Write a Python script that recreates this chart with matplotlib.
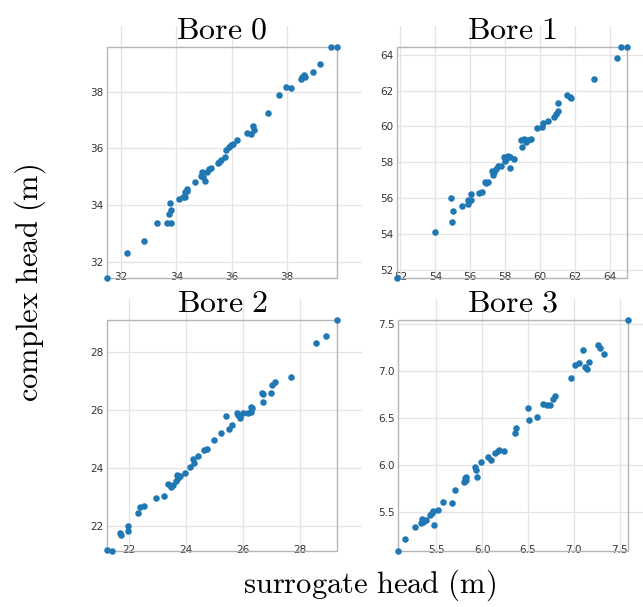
import matplotlib
matplotlib.use("Agg")
import matplotlib.pyplot as plt
from matplotlib.patches import Rectangle

plt.rcParams["mathtext.fontset"] = "cm"
plt.rcParams["font.family"] = "DejaVu Sans"

# surrogate head (x) vs complex head (y) per bore
bore0_x = [31.49, 32.20, 32.84, 33.31, 33.65, 33.82, 33.72, 33.82, 33.76, 34.09,
           34.26, 34.32, 34.33, 34.39, 34.40, 34.66, 34.88, 34.93, 34.95, 35.05,
           35.12, 35.19, 35.26, 35.50, 35.55, 35.62, 35.76, 35.79, 35.91, 35.98,
           36.06, 36.21, 36.56, 36.71, 36.80, 36.77, 37.32, 37.71, 37.99, 38.15,
           38.50, 38.55, 38.61, 38.67, 38.95, 39.20, 39.60, 39.82]
bore0_y = [31.43, 32.30, 32.74, 33.38, 33.38, 33.36, 33.69, 33.84, 34.07, 34.20,
           34.27, 34.30, 34.46, 34.57, 34.51, 34.82, 35.01, 35.16, 34.99, 34.85,
           35.15, 35.27, 35.29, 35.48, 35.53, 35.60, 35.70, 35.93, 36.05, 36.10,
           36.14, 36.31, 36.55, 36.51, 36.64, 36.78, 37.23, 37.89, 38.15, 38.13,
           38.46, 38.51, 38.60, 38.53, 38.69, 38.98, 39.57, 39.57]

bore1_x = [51.80, 53.98, 54.91, 54.93, 55.03, 55.54, 55.86, 55.90, 56.02, 56.05,
           56.49, 56.66, 56.85, 56.93, 57.00, 57.25, 57.33, 57.38, 57.46, 57.57,
           57.76, 57.92, 57.99, 58.07, 58.16, 58.30, 58.30, 58.52, 58.90, 58.98,
           59.06, 59.17, 59.29, 59.48, 59.82, 60.14, 60.16, 60.46, 60.81, 60.94,
           61.03, 61.03, 61.57, 61.72, 61.79, 63.09, 64.42, 64.65, 64.99]
bore1_y = [51.55, 54.13, 56.01, 54.65, 55.28, 55.56, 55.88, 55.69, 55.92, 56.22,
           56.29, 56.35, 56.93, 56.85, 56.89, 57.52, 57.28, 57.47, 57.60, 57.78,
           57.78, 58.27, 58.08, 58.19, 58.34, 57.71, 58.31, 58.16, 59.24, 58.83,
           59.28, 59.13, 59.24, 59.31, 59.93, 59.95, 60.17, 60.32, 60.54, 60.69,
           60.84, 61.29, 61.76, 61.66, 61.57, 62.63, 63.83, 64.43, 64.43]

bore2_x = [21.24, 21.43, 21.68, 21.73, 21.96, 21.96, 22.34, 22.41, 22.55, 22.94,
           23.23, 23.39, 23.49, 23.56, 23.65, 23.70, 23.74, 23.81, 23.98, 24.16,
           24.26, 24.30, 24.44, 24.63, 24.73, 24.98, 25.24, 25.40, 25.52, 25.60,
           25.78, 25.82, 25.89, 25.99, 26.18, 26.27, 26.29, 26.32, 26.67, 26.71,
           26.69, 26.97, 27.02, 27.13, 27.67, 28.56, 28.89, 29.29]
bore2_y = [21.16, 21.12, 21.73, 21.69, 21.97, 21.82, 22.43, 22.64, 22.68, 22.94,
           23.01, 23.43, 23.34, 23.41, 23.55, 23.73, 23.64, 23.71, 23.83, 24.01,
           24.29, 24.15, 24.40, 24.61, 24.66, 24.97, 25.20, 25.80, 25.33, 25.48,
           25.90, 25.82, 25.72, 25.88, 25.88, 25.93, 26.09, 26.05, 26.59, 26.54,
           26.28, 26.59, 26.86, 26.95, 27.13, 28.30, 28.55, 29.10]

bore3_x = [5.085, 5.16, 5.27, 5.34, 5.35, 5.36, 5.39, 5.43, 5.45, 5.47,
           5.48, 5.52, 5.57, 5.67, 5.71, 5.80, 5.81, 5.82, 5.83, 5.83,
           5.92, 5.93, 5.94, 5.99, 6.07, 6.10, 6.14, 6.17, 6.19, 6.24,
           6.36, 6.37, 6.50, 6.51, 6.60, 6.66, 6.71, 6.74, 6.77, 6.79,
           6.97, 7.01, 7.06, 7.10, 7.12, 7.14, 7.17, 7.26, 7.28, 7.33, 7.59]
bore3_y = [5.09, 5.22, 5.34, 5.39, 5.43, 5.40, 5.42, 5.47, 5.49, 5.51,
           5.37, 5.52, 5.61, 5.60, 5.74, 5.82, 5.86, 5.83, 5.88, 5.84,
           5.98, 5.95, 5.88, 6.03, 6.09, 6.05, 6.13, 6.15, 6.16, 6.15,
           6.34, 6.39, 6.61, 6.48, 6.51, 6.65, 6.64, 6.64, 6.70, 6.73,
           6.92, 7.06, 7.08, 7.22, 7.04, 7.02, 7.09, 7.27, 7.24, 7.18, 7.54]

titles = ["Bore 0", "Bore 1", "Bore 2", "Bore 3"]
xs = [bore0_x, bore1_x, bore2_x, bore3_x]
ys = [bore0_y, bore1_y, bore2_y, bore3_y]
ticks = [[32, 34, 36, 38],
         [52, 54, 56, 58, 60, 62, 64],
         [22, 24, 26, 28],
         [5.5, 6.0, 6.5, 7.0, 7.5]]
tick_labels = [["32", "34", "36", "38"],
               ["52", "54", "56", "58", "60", "62", "64"],
               ["22", "24", "26", "28"],
               ["5.5", "6.0", "6.5", "7.0", "7.5"]]

W, H = 643, 607
# frame (left, top) in pixels, frame size in pixels
frames = [(107, 47), (397, 47), (107, 320), (398, 320)]
fw, fh = 230, 231
ex, ey = 0.11, 0.09  # grid runs a bit past the frame on the right and top

fig = plt.figure(figsize=(W / 100, H / 100), dpi=100)

for i in range(4):
    left, top = frames[i]
    ax = fig.add_axes([left / W, (H - top - fh) / H, fw * (1 + ex) / W, fh * (1 + ey) / H])
    x, y = xs[i], ys[i]
    x0, x1 = min(x), max(x)
    y0, y1 = min(y), max(y)
    ax.set_xlim(x0, x1 + ex * (x1 - x0))
    ax.set_ylim(y0, y1 + ey * (y1 - y0))
    for s in ax.spines.values():
        s.set_visible(False)
    ax.set_xticks(ticks[i])
    ax.set_xticklabels(tick_labels[i])
    ax.set_yticks(ticks[i])
    ax.set_yticklabels(tick_labels[i])
    ax.grid(True, color="#e4e4e4", lw=0.9)
    ax.set_axisbelow(True)
    ax.tick_params(length=0, labelsize=7.5, labelcolor="#333333")
    ax.tick_params(axis="x", pad=-4)
    ax.tick_params(axis="y", pad=2.5)
    ax.add_patch(Rectangle((x0, y0), x1 - x0, y1 - y0, fill=False,
                           edgecolor="#b5b5b5", lw=1.0, zorder=2, clip_on=False))
    ax.scatter(x, y, s=22, color="#1f77b4", linewidths=0, zorder=3, clip_on=False)
    ax.annotate("$\\mathrm{" + titles[i].replace(" ", "\\ ") + "}$",
                xy=((x0 + x1) / 2, y1), xycoords="data",
                xytext=(0, 6), textcoords="offset points",
                ha="center", va="baseline", fontsize=23, annotation_clip=False)

fig.text(369 / W, 14 / H, "$\\mathrm{surrogate\\ head\\ (m)}$",
         ha="center", va="baseline", fontsize=22)
fig.text(30 / W, 1 - 283 / H, "$\\mathrm{complex\\ head\\ (m)}$",
         ha="center", va="center", rotation=90, fontsize=22)

fig.savefig("out.png", dpi=100)
